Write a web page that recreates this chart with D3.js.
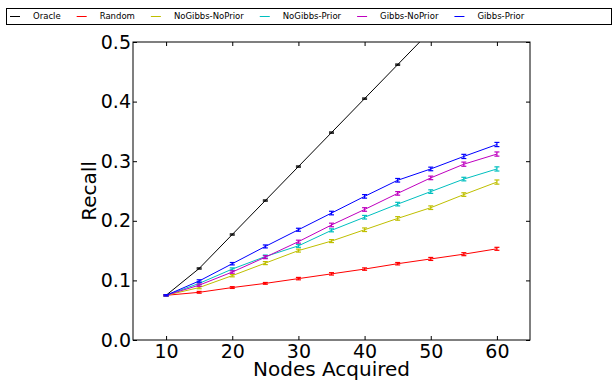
<!DOCTYPE html>
<html><head><meta charset="utf-8">
<script src="https://cdn.jsdelivr.net/npm/d3@7"></script>
<style>body{margin:0;background:#fff}svg{display:block}text{font-family:"DejaVu Sans",sans-serif}</style>
</head><body><svg id="c" width="613" height="382"></svg>
<script>
const nodes = [10,15,20,25,30,35,40,45,50,55,60];
const seriesNames = ["Oracle","Random","NoGibbs-NoPrior","NoGibbs-Prior","Gibbs-NoPrior","Gibbs-Prior"];
const seriesColors = ["#000000","#ff0000","#bfbf00","#00bfbf","#bf00bf","#0000ff"];
const oracle =        [0.075,0.120,0.177,0.234,0.291,0.348,0.405,0.462,0.519,0.576,0.633];
const random =        [0.075,0.080,0.088,0.095,0.103,0.111,0.119,0.128,0.136,0.144,0.153];
const noGibbsNoPrior =[0.075,0.088,0.108,0.129,0.150,0.166,0.185,0.204,0.222,0.244,0.265];
const noGibbsPrior =  [0.075,0.095,0.119,0.140,0.158,0.184,0.206,0.228,0.249,0.270,0.287];
const gibbsNoPrior =  [0.075,0.092,0.114,0.139,0.165,0.193,0.219,0.246,0.272,0.295,0.312];
const gibbsPrior =    [0.075,0.099,0.128,0.157,0.185,0.213,0.241,0.268,0.287,0.308,0.328];
const errOracle =     [0.001,0.001,0.001,0.001,0.001,0.001,0.001,0.001,0.001,0.001,0.001];
const errRandom =     [0.001,0.0015,0.0015,0.0015,0.002,0.002,0.002,0.002,0.0025,0.0025,0.0025];
const errNGNP =       [0.001,0.002,0.002,0.0025,0.0025,0.0025,0.003,0.003,0.003,0.003,0.0035];
const errNGP =        [0.001,0.002,0.002,0.0025,0.0025,0.0025,0.003,0.003,0.003,0.003,0.0035];
const errGNP =        [0.001,0.002,0.002,0.0025,0.0025,0.003,0.003,0.003,0.003,0.0035,0.0035];
const errGP =         [0.001,0.002,0.002,0.0025,0.0025,0.003,0.003,0.003,0.003,0.0035,0.0035];
const xTicks = [10,20,30,40,50,60];
const yTicks = [0.0,0.1,0.2,0.3,0.4,0.5];

const values = [oracle,random,noGibbsNoPrior,noGibbsPrior,gibbsNoPrior,gibbsPrior];
const errors = [errOracle,errRandom,errNGNP,errNGP,errGNP,errGP];

const svg = d3.select("#c");
const L=133,R=530,T=42,B=340;
const x = d3.scaleLinear().domain([5,65]).range([L,R]);
const y = d3.scaleLinear().domain([0,0.5]).range([B,T]);

svg.append("clipPath").attr("id","clip").append("rect").attr("x",L).attr("y",T).attr("width",R-L).attr("height",B-T);

const plot = svg.append("g").attr("clip-path","url(#clip)");
const line = d3.line().x(d=>x(d[0])).y(d=>y(d[1]));
seriesNames.forEach((name,i)=>{
  const pts = nodes.map((n,j)=>[n,values[i][j],errors[i][j]]);
  const g = plot.append("g").attr("stroke",seriesColors[i]).attr("fill","none");
  g.append("path").attr("d",line(pts)).attr("stroke-width",1);
  pts.forEach(p=>{
    const cx=x(p[0]), y1=y(p[1]-p[2]), y2=y(p[1]+p[2]);
    g.append("line").attr("x1",cx).attr("x2",cx).attr("y1",y1).attr("y2",y2).attr("stroke-width",1.2);
    g.append("line").attr("x1",cx-2.5).attr("x2",cx+2.5).attr("y1",y1).attr("y2",y1).attr("stroke-width",1.2);
    g.append("line").attr("x1",cx-2.5).attr("x2",cx+2.5).attr("y1",y2).attr("y2",y2).attr("stroke-width",1.2);
  });
});

// axes
const fs = 19;
const ax = svg.append("g").attr("transform",`translate(0,${B})`)
  .call(d3.axisBottom(x).tickValues(xTicks).tickSize(-4).tickPadding(4).tickFormat(d3.format("d")));
const axTop = svg.append("g").attr("transform",`translate(0,${T})`)
  .call(d3.axisTop(x).tickValues(xTicks).tickSize(-4).tickFormat(""));
const ay = svg.append("g").attr("transform",`translate(${L},0)`)
  .call(d3.axisLeft(y).tickValues(yTicks).tickSize(-4).tickPadding(2).tickFormat(d3.format(".1f")));
const ayR = svg.append("g").attr("transform",`translate(${R},0)`)
  .call(d3.axisRight(y).tickValues(yTicks).tickSize(-4).tickFormat(""));
[ax,axTop,ay,ayR].forEach(a=>{
  a.select(".domain").remove();
  a.selectAll("line").attr("stroke","#000");
  a.selectAll("text").attr("font-size",fs).attr("fill","#000").attr("font-family","DejaVu Sans, sans-serif");
});
svg.append("rect").attr("x",L).attr("y",T).attr("width",R-L).attr("height",B-T)
  .attr("fill","none").attr("stroke","#000").attr("stroke-width",1);

svg.append("text").attr("x",(L+R)/2).attr("y",376).attr("text-anchor","middle")
  .attr("font-size",20).text("Nodes Acquired");
svg.append("text").attr("transform",`translate(96,${(T+B)/2}) rotate(-90)`).attr("text-anchor","middle")
  .attr("font-size",20).text("Recall");

// legend
const lg = svg.append("g");
lg.append("rect").attr("x",6.5).attr("y",8.5).attr("width",605).attr("height",16)
  .attr("fill","#fff").attr("stroke","#000").attr("stroke-width",1);
let lx = 10;
seriesNames.forEach((name,i)=>{
  lg.append("line").attr("x1",lx).attr("x2",lx+10).attr("y1",16.5).attr("y2",16.5)
    .attr("stroke",seriesColors[i]).attr("stroke-width",1);
  const t = lg.append("text").attr("x",lx+23).attr("y",16.5).attr("dy","0.35em")
    .attr("font-size",8.5).text(name);
  lx = lx + 23 + t.node().getComputedTextLength() + 16;
});
</script></body></html>
